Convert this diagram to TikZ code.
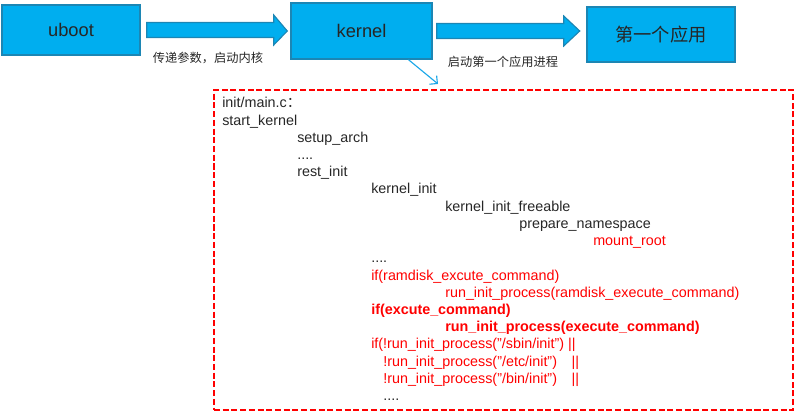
\documentclass[tikz,border=0pt]{standalone}
\usepackage{fontspec}
\setmainfont{Liberation Sans}
\newfontfamily\cjk{Noto Sans CJK SC}
\usepackage{xcolor}
\usetikzlibrary{arrows.meta, positioning, calc}

\definecolor{boxblue}{HTML}{00AEEF}
\definecolor{boxborder}{HTML}{1C86B4}
\definecolor{linkblue}{HTML}{1AA7E8}
\definecolor{textdark}{HTML}{262626}
\definecolor{codered}{HTML}{FF0000}
\newcommand{\dq}{\char"22\relax}

\begin{document}
\begin{tikzpicture}[
    x=0.025cm, y=-0.025cm,
    stagebox/.style={draw=boxborder, fill=boxblue, line width=1pt, text=textdark, font=\fontsize{13}{15}\selectfont},
    blockarrow/.style={draw=boxborder, fill=boxblue, line width=0.8pt, line join=miter},
    note/.style={text=textdark, font=\cjk\fontsize{8.7}{10}\selectfont},
    codebox/.style={draw=codered, line width=1.4pt, dash pattern=on 4.3pt off 1.9pt, minimum width=14.475cm, minimum height=8cm},
    code/.style={anchor=base west, inner sep=0pt, text=textdark, font=\fontsize{10.2}{12}\selectfont},
    redcode/.style={code, text=codered},
    boldcode/.style={redcode, font=\fontsize{10.2}{12}\selectfont\bfseries},
    >={Straight Barb[length=4pt]}
]
\useasboundingbox (0,0) rectangle (800,419);

% Boot stages
\node[stagebox, minimum width=3.45cm, minimum height=1.25cm] (uboot) at (71,30) {uboot};
\node[stagebox, minimum width=3.525cm, minimum height=1.4cm] (kernel) at (361.5,31) {kernel};
\node[stagebox, minimum width=3.7cm, minimum height=1.375cm] (app) at (661,34.5) {\cjk 第一个应用};

% Block arrows between stages
\draw[blockarrow] ($(uboot.east)+(6,-7.5)$) -- ++(127,0) -- ++(0,-7.5) -- ($(kernel.west)+(-3,0)$)
    -- ($(uboot.east)+(133,15)$) -- ++(0,-7.5) -- ++(-127,0) -- cycle;
\draw[blockarrow] ($(kernel.east)+(4,-7.5)$) -- ++(127,0) -- ++(0,-7.5) -- ($(kernel.east)+(147,0)$)
    -- ($(kernel.east)+(131,15)$) -- ++(0,-7.5) -- ++(-127,0) -- cycle;

% Arrow labels
\node[note] (passargs) at (208,58) {传递参数，启动内核};
\node[note] (startapp) at (503,62) {启动第一个应用进程};

% Code detail
\node[codebox] (codebox) at (503.5,250) {};
\draw[->, linkblue, line width=0.8pt] ($(kernel.south)+(47,0)$) -- ($(codebox.north)+(-65.5,-5)$);

% Call chain
\node[code] (mainc) at (222,108) {init/main.c{\cjk ：}};
\node[code] (startkernel) at (222,125.2) {start\_kernel};
\node[code] (setuparch) at (297,142.4) {setup\_arch};
\node[code] (dots1) at (297,159.6) {....};
\node[code] (restinit) at (297,176.8) {rest\_init};
\node[code] (kernelinit) at (371,194) {kernel\_init};
\node[code] (freeable) at (445,211.2) {kernel\_init\_freeable};
\node[code] (namespace) at (519,228.4) {prepare\_namespace};
\node[redcode] (mountroot) at (593,245.6) {mount\_root};
\node[code] (dots2) at (371,262.8) {....};
\node[redcode] (ifram) at (371,280) {if(ramdisk\_excute\_command)};
\node[redcode] (runram) at (445,297.2) {run\_init\_process(ramdisk\_execute\_command)};
\node[boldcode] (ifexec) at (371,314.4) {if(excute\_command)};
\node[boldcode] (runexec) at (445,331.6) {run\_init\_process(execute\_command)};
\node[redcode] (runsbin) at (371,348.8) {if(!run\_init\_process(\dq/sbin/init\dq) ||};
\node[redcode] (runetc) at (383,366) {\makebox[134pt][l]{!run\_init\_process(\dq/etc/init\dq)}||};
\node[redcode] (runbin) at (383,383.2) {\makebox[134pt][l]{!run\_init\_process(\dq/bin/init\dq)}||};
\node[code] (dots3) at (383,400.4) {....};
\end{tikzpicture}
\end{document}
